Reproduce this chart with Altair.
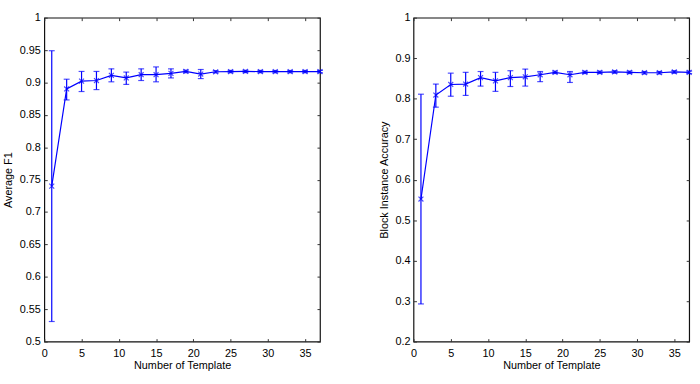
import altair as alt
import pandas as pd

templates = [1, 3, 5, 7, 9, 11, 13, 15, 17, 19, 21, 23, 25, 27, 29, 31, 33, 35, 37]

f1_mean = [0.740, 0.890, 0.902, 0.903, 0.911, 0.907, 0.912, 0.912, 0.914, 0.917,
           0.913, 0.9165, 0.9168, 0.9170, 0.9168, 0.9167, 0.9167, 0.9168, 0.9168]
f1_lo = [0.531, 0.873, 0.886, 0.889, 0.901, 0.897, 0.903, 0.901, 0.907, 0.915,
         0.906, 0.9148, 0.9150, 0.9152, 0.9150, 0.9149, 0.9149, 0.9150, 0.9150]
f1_hi = [0.949, 0.905, 0.917, 0.917, 0.921, 0.916, 0.921, 0.924, 0.921, 0.919,
         0.920, 0.9182, 0.9186, 0.9188, 0.9186, 0.9185, 0.9185, 0.9186, 0.9186]

acc_mean = [0.552, 0.809, 0.835, 0.836, 0.852, 0.844, 0.852, 0.854, 0.859, 0.865,
            0.859, 0.865, 0.865, 0.866, 0.865, 0.864, 0.864, 0.866, 0.865]
acc_lo = [0.293, 0.779, 0.806, 0.808, 0.831, 0.818, 0.830, 0.831, 0.842, 0.862,
          0.840, 0.862, 0.862, 0.863, 0.862, 0.861, 0.861, 0.863, 0.862]
acc_hi = [0.811, 0.836, 0.863, 0.865, 0.867, 0.865, 0.869, 0.873, 0.867, 0.868,
          0.867, 0.868, 0.868, 0.869, 0.868, 0.867, 0.867, 0.869, 0.868]

x_ticks = [0, 5, 10, 15, 20, 25, 30, 35]
f1_ticks = [0.5, 0.55, 0.6, 0.65, 0.7, 0.75, 0.8, 0.85, 0.9, 0.95, 1.0]
acc_ticks = [0.2, 0.3, 0.4, 0.5, 0.6, 0.7, 0.8, 0.9, 1.0]

BLUE = "#0000ff"
XMARK = "M-1,-1L1,1M-1,1L1,-1"


def panel(mean, lo, hi, ydomain, yticks, ytitle, ylabpad):
    df = pd.DataFrame({"n": templates, "m": mean, "lo": lo, "hi": hi})
    xs = alt.Scale(domain=[0, 37], nice=False, zero=False)
    ys = alt.Scale(domain=ydomain, nice=False, zero=False)
    xaxis = alt.Axis(
        orient="bottom", values=x_ticks, format="d", title="Number of Template",
        offset=-3, tickSize=3, domain=False, grid=False,
        labelOverlap=False, labelFlush=False,
        labelPadding=6, titlePadding=1)
    yaxis = alt.Axis(
        orient="left", values=yticks, format="~g", title=ytitle,
        offset=-3, tickSize=3, domain=False, grid=False,
        labelOverlap=False, labelFlush=False,
        labelPadding=ylabpad, titlePadding=6)
    base = alt.Chart(df)
    xenc = alt.X("n:Q", scale=xs, axis=xaxis)
    line = base.mark_line(color=BLUE, strokeWidth=1.2).encode(
        x=xenc, y=alt.Y("m:Q", scale=ys, axis=yaxis))
    rule = base.mark_rule(color=BLUE, strokeWidth=1.2).encode(
        x=xenc, y=alt.Y("lo:Q", scale=ys, axis=yaxis), y2="hi:Q")
    cap_lo = base.mark_tick(color=BLUE, orient="horizontal", size=6,
                            thickness=1.2).encode(
        x=xenc, y=alt.Y("lo:Q", scale=ys, axis=yaxis))
    cap_hi = base.mark_tick(color=BLUE, orient="horizontal", size=6,
                            thickness=1.2).encode(
        x=xenc, y=alt.Y("hi:Q", scale=ys, axis=yaxis))
    pts = base.mark_point(shape=XMARK, size=25, color=BLUE, filled=False,
                          strokeWidth=1.2).encode(
        x=xenc, y=alt.Y("m:Q", scale=ys, axis=yaxis))
    main = alt.layer(line, rule, cap_lo, cap_hi, pts)
    frame = base.mark_point(opacity=0).encode(
        x=alt.X("n:Q", scale=xs, axis=alt.Axis(
            orient="top", values=x_ticks, labels=False, title=None,
            offset=-3, tickSize=3, domain=False, grid=False)),
        y=alt.Y("m:Q", scale=ys, axis=alt.Axis(
            orient="right", values=yticks, labels=False, title=None,
            offset=-3, tickSize=3, domain=False, grid=False)))
    return alt.layer(main, frame).resolve_scale(
        x="independent", y="independent").properties(width=280, height=329)


left = panel(f1_mean, f1_lo, f1_hi, [0.5, 1.0], f1_ticks, "Average F1", 4)
right = panel(acc_mean, acc_lo, acc_hi, [0.2, 1.0], acc_ticks,
              "Block Instance Accuracy", 3.5)

chart = alt.hconcat(left, right, spacing=52).properties(
    padding={"left": 1, "top": 8, "right": 5, "bottom": 2}
).configure(
    font="Liberation Sans"
).configure_view(
    stroke="#111111", strokeWidth=1.2
).configure_axis(
    labelFont="Liberation Sans", titleFont="Liberation Sans",
    labelFontSize=11, titleFontSize=11, titleFontWeight="normal",
    labelColor="black", titleColor="black", tickColor="#333333"
)

chart.save("out.html", embed_options={"renderer": "svg", "actions": False})
